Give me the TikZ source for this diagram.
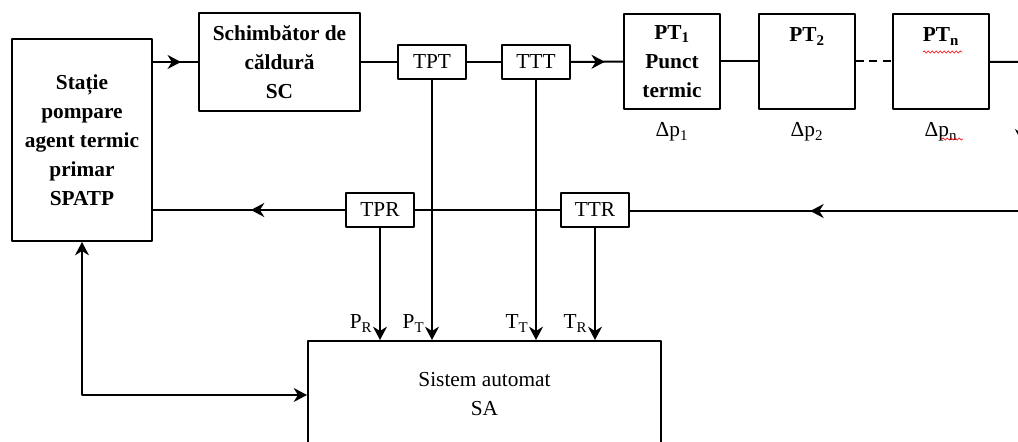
\documentclass[tikz,border=0pt]{standalone}
\usepackage{fontspec}
\setmainfont{Liberation Serif}
\usepackage{tikz}
\usetikzlibrary{arrows.meta,decorations.markings,decorations.pathmorphing}
\tikzset{
  every picture/.style={line join=round, >={Stealth[length=10pt,width=10.5pt]}},
  txt/.style={font=\fontsize{16}{21.75}\selectfont},
  boldtxt/.style={font=\fontsize{16}{21.75}\selectfont\bfseries},
  blk/.style={draw, line width=1.5pt, align=center, inner sep=2pt},
  sensor/.style={blk, minimum width=51pt, minimum height=25.5pt},
  ptbox/.style={blk, boldtxt, minimum width=72pt, minimum height=71.25pt},
  sig/.style={anchor=south east, inner sep=5pt},
  dp/.style={label distance=5.5pt},
  midarrow/.style={postaction=decorate, decoration={markings, mark=at position #1 with {\arrow{Stealth[length=10pt,width=10.5pt]}}}},
  spell/.style={red, line width=0.5pt, decorate, decoration={snake, amplitude=0.8pt, segment length=3pt}},
}

\begin{document}
\begin{tikzpicture}[x=0.75pt,y=-0.75pt,line width=1.5pt,every node/.style={txt}]
\useasboundingbox(0,0)rectangle(1018,442);
\clip(0,0)rectangle(1018,442);
\node[blk,boldtxt,minimum width=105pt,minimum height=151.5pt](spatp)at(82,140){Stație\\pompare\\agent termic\\primar\\SPATP};
\node[blk,boldtxt,minimum width=120.75pt,minimum height=73.5pt](sc)at(279.5,62){Schimbător de\\căldură\\SC};
\node[sensor](tpt)at(432,62){TPT};
\node[sensor](ttt)at(536,62){TTT};
\node[ptbox,label={[dp]below:Δp\textsubscript{1}}](pt1)at(672,61.5){PT\textsubscript{1}\\Punct\\termic};
\node[ptbox,label={[anchor=north,yshift=-7pt,boldtxt]north:PT\textsubscript{2}},label={[dp]below:Δp\textsubscript{2}}](pt2)at(807,61.5){};
\node[ptbox,label={[anchor=north,yshift=-7pt,boldtxt]north:PT\textsubscript{n}},label={[dp]below:Δp\textsubscript{n}}](ptn)at(941,61.5){};
\node[sensor](tpr)at(380,210){TPR};
\node[sensor](ttr)at(595,210){TTR};
\node[blk,minimum width=264.75pt,minimum height=81pt,label={[anchor=north,yshift=-20pt,align=center]north:Sistem automat\\SA}](sa)at(484.5,395){};
\coordinate(rt)at(1022,62);
\coordinate(rb)at(1022,211);
\draw[midarrow=0.62](spatp.east|-sc.west)--(sc.west);
\draw(sc)--(tpt);
\draw(tpt)--(ttt);
\draw[midarrow=0.65](ttt)--(pt1);
\draw(pt1)--(pt2);
\draw[dash pattern=on 6pt off 4pt](pt2)--(ptn);
\draw(ptn)--(rt);
\draw[midarrow=0.54](rt)--(rb);
\draw[midarrow=0.54](rb)--(ttr.east|-rb);
\draw(ttr)--(tpr);
\draw[midarrow=0.49](tpr)--(spatp.east|-tpr.west);
\draw[->](tpr)--node[sig,pos=1]{P\textsubscript{R}}(tpr|-sa.north);
\draw[->](tpt)--node[sig,pos=1]{P\textsubscript{T}}(tpt|-sa.north);
\draw[->](ttt)--node[sig,pos=1]{T\textsubscript{T}}(ttt|-sa.north);
\draw[->](ttr)--node[sig,pos=1]{T\textsubscript{R}}(ttr|-sa.north);
\draw[<->](spatp.south)|-(sa.west);
\draw[spell](923,52)--(962,52);
\draw[spell](942,139)--(963,139);
\end{tikzpicture}
\end{document}
